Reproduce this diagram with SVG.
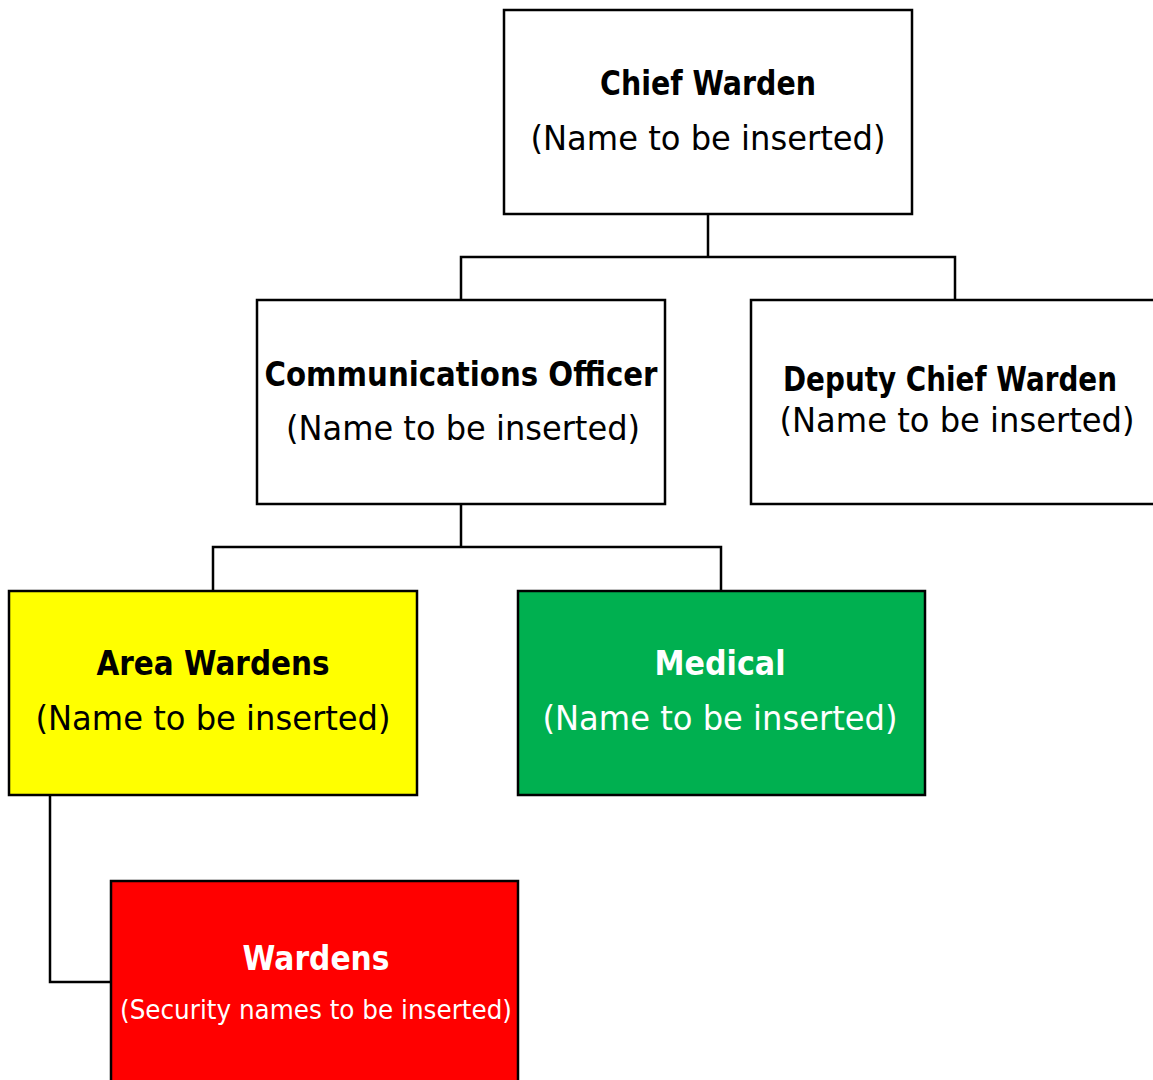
<svg xmlns="http://www.w3.org/2000/svg" width="1153" height="1080" viewBox="0 0 1153 1080">
<style>
.box{stroke:#000;stroke-width:2.5}
.t{font-family:"DejaVu Sans","Liberation Sans",sans-serif;text-anchor:middle}
.b{font-weight:bold;font-size:33px}
.n{font-size:33px}
.s{font-size:26px}
.conn{fill:none;stroke:#000;stroke-width:2.5}
</style>
<rect width="1153" height="1080" fill="#fff"/>
<g id="connectors">
<path class="conn" d="M708,214 V257 M461,300 V257 H955 V300"/>
<path class="conn" d="M461,504 V547 M213,591 V547 H721 V591"/>
<path class="conn" d="M50,795 V982 H111"/>
</g>
<g id="chief-warden">
<rect class="box" x="504" y="10" width="408" height="204" fill="#fff"/>
<text class="t b" x="708" y="95" textLength="216" lengthAdjust="spacingAndGlyphs">Chief Warden</text>
<text class="t n" x="708" y="150" textLength="355" lengthAdjust="spacingAndGlyphs">(Name to be inserted)</text>
</g>
<g id="communications-officer">
<rect class="box" x="257" y="300" width="408" height="204" fill="#fff"/>
<text class="t b" x="461" y="386" textLength="393" lengthAdjust="spacingAndGlyphs">Communications  Officer</text>
<text class="t n" x="463" y="440" textLength="354" lengthAdjust="spacingAndGlyphs">(Name to be inserted)</text>
</g>
<g id="deputy-chief-warden">
<rect class="box" x="751" y="300" width="410" height="204" fill="#fff"/>
<text class="t b" x="950" y="391" textLength="334" lengthAdjust="spacingAndGlyphs">Deputy Chief Warden</text>
<text class="t n" x="957" y="432" textLength="355" lengthAdjust="spacingAndGlyphs">(Name to be inserted)</text>
</g>
<g id="area-wardens">
<rect class="box" x="9" y="591" width="408" height="204" fill="#ffff00"/>
<text class="t b" x="213" y="675" textLength="233" lengthAdjust="spacingAndGlyphs">Area Wardens</text>
<text class="t n" x="213" y="730" textLength="355" lengthAdjust="spacingAndGlyphs">(Name to be inserted)</text>
</g>
<g id="medical">
<rect class="box" x="518" y="591" width="407" height="204" fill="#00b050"/>
<text class="t b" x="720" y="675" textLength="131" lengthAdjust="spacingAndGlyphs" fill="#fff">Medical</text>
<text class="t n" x="720" y="730" textLength="355" lengthAdjust="spacingAndGlyphs" fill="#fff">(Name to be inserted)</text>
</g>
<g id="wardens">
<rect class="box" x="111" y="881" width="407" height="210" fill="#ff0000"/>
<text class="t b" x="316" y="970" textLength="147" lengthAdjust="spacingAndGlyphs" fill="#fff">Wardens</text>
<text class="t s" x="316" y="1019" textLength="392" lengthAdjust="spacingAndGlyphs" fill="#fff">(Security names to be inserted)</text>
</g>
</svg>
